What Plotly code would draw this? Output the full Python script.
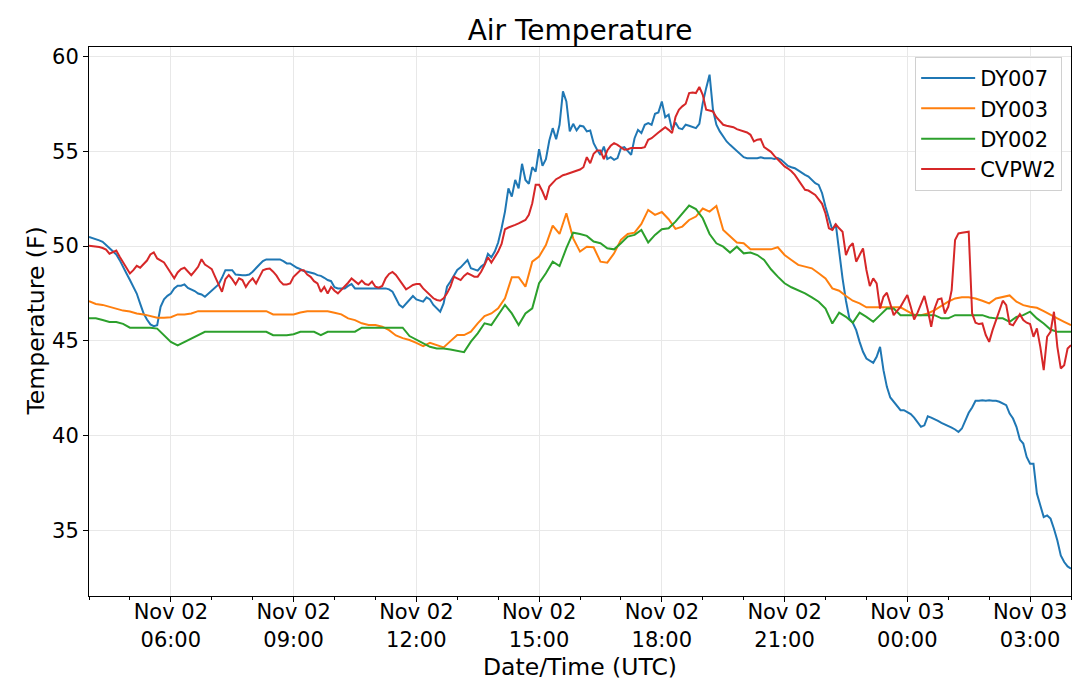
import pandas as pd
import plotly.graph_objects as go

# readings at 5 min (DY007, CVPW2) and 10 min (DY003, DY002) steps from Nov 02 04:00 UTC
start = "2019-11-02 04:00"

dy007 = [
    50.49, 50.44, 50.37, 50.3, 50.23, 50.05, 49.88, 49.74, 49.56, 49.26, 48.94, 48.56,
    48.21, 47.85, 47.5, 46.97, 46.45, 46.13, 45.87, 45.78, 45.83, 46.8, 47.2, 47.38,
    47.5, 47.77, 47.91, 47.91, 47.98, 47.8, 47.73, 47.63, 47.5, 47.45, 47.33, 47.5,
    47.68, 47.8, 47.98, 48.33, 48.73, 48.73, 48.73, 48.5, 48.47, 48.47, 48.47, 48.5,
    48.65, 48.86, 49.03, 49.21, 49.3, 49.3, 49.3, 49.3, 49.3, 49.21, 49.09, 49.09,
    48.96, 48.86, 48.79, 48.68, 48.65, 48.61, 48.56, 48.47, 48.43, 48.33, 48.21, 48.15,
    47.83, 47.77, 47.77, 47.77, 47.9, 48.0, 47.77, 47.77, 47.77, 47.77, 47.77, 47.77,
    47.77, 47.77, 47.77, 47.77, 47.72, 47.6, 47.25, 46.9, 46.77, 46.98, 47.16, 47.37,
    47.19, 47.12, 47.07, 47.3, 47.19, 46.9, 46.72, 46.54, 46.98, 47.86, 48.13, 48.43,
    48.74, 48.88, 49.06, 49.27, 48.83, 48.78, 48.71, 48.92, 49.06, 49.59, 49.41, 49.71,
    50.19, 50.94, 51.82, 53.05, 52.61, 53.49, 53.05, 54.34, 53.49, 53.28, 54.16, 53.93,
    55.11, 54.23, 54.59, 55.57, 56.22, 55.64, 56.4, 58.16, 57.63, 56.05, 56.45, 56.1,
    56.35, 56.31, 56.05, 56.1, 55.43, 55.08, 54.81, 55.25, 54.59, 54.69, 54.55, 54.64,
    55.17, 55.22, 54.99, 54.81, 55.69, 56.13, 55.96, 56.4, 56.49, 56.4, 56.98, 57.05,
    57.63, 56.8, 56.93, 56.13, 56.52, 56.22, 56.17, 56.4, 56.35, 56.27, 56.22, 56.45,
    57.54, 58.33, 59.04, 57.19, 56.4, 56.05, 55.75, 55.52, 55.34, 55.17, 54.99, 54.81,
    54.69, 54.64, 54.64, 54.64, 54.64, 54.69, 54.64, 54.64, 54.64, 54.59, 54.64, 54.55,
    54.37, 54.23, 54.16, 54.11, 53.99, 53.85, 53.76, 53.67, 53.5, 53.32, 53.23, 52.79,
    52.07, 51.52, 50.85, 51.17, 49.71, 48.3, 47.12, 46.19, 45.96, 45.57, 44.95, 44.43,
    44.07, 43.95, 43.85, 44.16, 44.69, 43.46, 42.58, 42.02, 41.79, 41.56, 41.35, 41.35,
    41.26, 41.14, 40.96, 40.68, 40.47, 40.55, 41.03, 40.96, 40.85, 40.78, 40.68, 40.61,
    40.5, 40.43, 40.33, 40.2, 40.38, 40.85, 41.21, 41.49, 41.84, 41.84, 41.87, 41.84,
    41.87, 41.84, 41.84, 41.79, 41.7, 41.61, 41.17, 40.91, 40.47, 39.8, 39.59, 38.88,
    38.53, 38.53, 36.95, 36.33, 35.71, 35.8, 35.63, 35.1, 34.48, 33.69, 33.34, 33.11,
    32.99,
]

cvpw2 = [
    50.02, 50.0, 49.98, 49.95, 49.9, 49.82, 49.6, 49.67, 49.77, 49.44, 49.14, 48.86,
    48.56, 48.73, 48.96, 48.86, 49.03, 49.24, 49.56, 49.67, 49.35, 49.24, 49.14, 48.86,
    48.61, 48.3, 48.61, 48.79, 48.86, 48.65, 48.47, 48.68, 48.91, 49.31, 49.03, 48.91,
    48.79, 48.38, 47.94, 47.59, 48.26, 48.47, 48.26, 47.98, 48.3, 48.21, 47.85, 48.12,
    48.3, 48.03, 48.38, 48.73, 48.79, 48.82, 48.65, 48.44, 48.15, 47.98, 47.98, 48.03,
    48.38, 48.56, 48.73, 48.73, 48.5, 48.38, 48.15, 48.03, 47.59, 47.85, 47.5, 47.85,
    47.65, 47.51, 47.69, 47.86, 48.07, 48.3, 48.16, 48.0, 48.18, 48.0, 47.95, 48.13,
    47.86, 47.81, 47.9, 48.3, 48.53, 48.64, 48.48, 48.21, 47.95, 47.72, 47.83, 47.95,
    48.0, 48.0, 47.77, 47.6, 47.42, 47.25, 47.16, 47.12, 47.25, 47.51, 47.86, 48.39,
    48.3, 48.21, 48.43, 48.57, 48.48, 48.39, 48.39, 48.65, 49.0, 49.41, 49.13, 49.41,
    49.71, 50.11, 50.89, 50.98, 51.03, 51.12, 51.2, 51.29, 51.38, 51.65, 52.26, 53.23,
    53.23, 52.88, 52.44, 53.14, 53.35, 53.53, 53.63, 53.74, 53.79, 53.85, 53.92, 54.0,
    54.04, 54.16, 54.69, 54.37, 54.87, 55.04, 55.04, 54.59, 55.04, 55.29, 55.43, 55.34,
    55.22, 55.08, 55.11, 55.17, 55.17, 55.17, 55.18, 55.22, 55.61, 55.69, 55.82, 55.99,
    56.13, 56.27, 56.13, 55.96, 56.8, 57.19, 57.37, 57.51, 58.07, 58.1, 58.07, 58.39,
    57.98, 57.19, 57.15, 57.1, 56.8, 56.57, 56.4, 56.35, 56.31, 56.27, 56.17, 56.1,
    56.05, 55.99, 55.87, 55.52, 55.61, 55.64, 55.22, 55.08, 54.97, 54.76, 54.59, 54.37,
    54.2, 54.09, 53.95, 53.76, 53.5, 53.18, 52.97, 52.93, 52.83, 52.7, 52.47, 52.23,
    51.72, 50.94, 50.85, 51.15, 50.94, 50.76, 49.53, 49.97, 50.15, 49.18, 49.53, 49.88,
    48.74, 47.89, 48.3, 48.03, 46.71, 47.33, 47.54, 46.98, 46.36, 46.59, 46.8, 47.12,
    47.42, 46.8, 46.13, 46.49, 46.89, 47.37, 46.63, 45.75, 46.71, 47.19, 47.24, 46.45,
    46.8, 47.68, 50.32, 50.67, 50.71, 50.73, 50.76, 46.45, 45.96, 45.89, 45.92, 45.31,
    44.95, 45.57, 46.1, 46.71, 47.12, 46.89, 45.89, 45.83, 46.1, 46.41, 46.1, 45.96,
    45.89, 45.22, 45.66, 44.69, 43.46, 45.22, 45.48, 46.54, 44.69, 43.55, 43.72, 44.6,
    44.78,
]

dy003 = [
    47.1, 46.95, 46.9, 46.8, 46.7, 46.6, 46.55, 46.45, 46.4, 46.3, 46.22, 46.22,
    46.25, 46.4, 46.4, 46.45, 46.57, 46.57, 46.57, 46.57, 46.57, 46.57, 46.57, 46.57,
    46.57, 46.57, 46.57, 46.4, 46.4, 46.4, 46.4, 46.5, 46.57, 46.57, 46.57, 46.57,
    46.49, 46.4, 46.19, 46.1, 45.93, 45.84, 45.84, 45.75, 45.57, 45.29, 45.15, 45.05,
    44.9, 44.73, 44.9, 44.78, 44.66, 44.99, 45.31, 45.31, 45.49, 45.93, 46.31, 46.45,
    46.72, 47.25, 48.36, 48.36, 47.86, 49.18, 49.45, 50.06, 51.08, 50.64, 51.73, 50.41,
    49.71, 49.97, 49.94, 49.18, 49.13, 49.62, 50.33, 50.64, 50.71, 51.17, 51.91, 51.65,
    51.8, 51.42, 50.91, 51.03, 51.38, 51.56, 51.98, 51.82, 52.12, 50.85, 50.5, 50.19,
    50.15, 49.83, 49.83, 49.83, 49.83, 49.94, 49.53, 49.27, 49.01, 48.92, 48.83, 48.57,
    48.3, 47.77, 47.65, 47.37, 47.12, 46.98, 46.77, 46.77, 46.77, 46.77, 46.77, 46.77,
    46.57, 46.38, 46.36, 46.45, 46.63, 46.87, 47.07, 47.24, 47.3, 47.3, 47.24, 47.12,
    46.98, 47.24, 47.3, 47.4, 47.07, 46.89, 46.8, 46.75, 46.57, 46.4, 46.19, 46.01,
    45.83,
]

dy002 = [
    46.2, 46.2, 46.1, 46.0, 46.0, 45.9, 45.7, 45.7, 45.7, 45.7, 45.65, 45.3,
    44.95, 44.77, 44.95, 45.1, 45.3, 45.48, 45.48, 45.48, 45.48, 45.48, 45.48, 45.48,
    45.48, 45.48, 45.48, 45.3, 45.3, 45.3, 45.35, 45.48, 45.48, 45.48, 45.3, 45.48,
    45.49, 45.49, 45.49, 45.49, 45.7, 45.7, 45.7, 45.7, 45.7, 45.7, 45.7, 45.26,
    45.08, 44.87, 44.69, 44.6, 44.6, 44.55, 44.48, 44.41, 44.96, 45.4, 45.93, 45.84,
    46.37, 46.9, 46.45, 45.84, 46.45, 46.72, 48.04, 48.57, 49.18, 48.95, 49.89, 50.71,
    50.64, 50.54, 50.24, 50.15, 49.89, 49.83, 50.15, 50.5, 50.59, 50.85, 50.19, 50.59,
    50.89, 50.94, 51.29, 51.73, 52.14, 51.95, 51.47, 50.64, 50.15, 49.97, 49.66, 49.97,
    49.62, 49.66, 49.53, 49.27, 48.78, 48.39, 48.04, 47.83, 47.69, 47.51, 47.3, 47.07,
    46.71, 45.92, 46.49, 46.27, 45.96, 46.49, 46.27, 46.01, 46.36, 46.71, 46.71, 46.36,
    46.36, 46.36, 46.36, 46.36, 46.36, 46.19, 46.19, 46.36, 46.36, 46.36, 46.36, 46.36,
    46.24, 46.19, 46.19, 46.01, 46.27, 46.36, 46.54, 46.19, 45.92, 45.6, 45.48, 45.48,
    45.48,
]

tick_times = ["2019-11-02 06:00", "2019-11-02 09:00", "2019-11-02 12:00", "2019-11-02 15:00",
              "2019-11-02 18:00", "2019-11-02 21:00", "2019-11-03 00:00", "2019-11-03 03:00"]
tick_labels = ["Nov 02<br>06:00", "Nov 02<br>09:00", "Nov 02<br>12:00", "Nov 02<br>15:00",
               "Nov 02<br>18:00", "Nov 02<br>21:00", "Nov 03<br>00:00", "Nov 03<br>03:00"]

t5 = pd.date_range(start, periods=len(dy007), freq="5min")
t10 = pd.date_range(start, periods=len(dy003), freq="10min")

series = [
    ("DY007", t5, dy007, "#1f77b4"),
    ("DY003", t10, dy003, "#ff7f0e"),
    ("DY002", t10, dy002, "#2ca02c"),
    ("CVPW2", t5, cvpw2, "#d62728"),
]

fig = go.Figure()
for name, t, v, c in series:
    fig.add_trace(go.Scatter(x=t, y=v, mode="lines", name=name, line=dict(color=c, width=2)))

# page body keeps an 8px margin, so the figure is 8px smaller each way
font = "DejaVu Sans, Verdana, sans-serif"
fig.update_layout(
    width=1072, height=676,
    margin=dict(l=81, r=9, t=39, b=88),
    paper_bgcolor="white", plot_bgcolor="white",
    font=dict(family=font, size=21, color="black"),
    title=dict(text="Air Temperature", x=0.5, xref="paper", y=1 - 22 / 676, yanchor="middle",
               font=dict(size=28)),
    legend=dict(x=0.991, y=0.982, xanchor="right", yanchor="top", bgcolor="rgba(255,255,255,0.85)",
                bordercolor="#d0d0d0", borderwidth=1, font=dict(size=21), itemwidth=54),
    showlegend=True,
    annotations=[
        dict(text="Date/Time (UTC)", xref="paper", yref="paper", x=0.5, y=-71 / 549,
             xanchor="center", yanchor="middle", showarrow=False, font=dict(size=23.5)),
        dict(text="Temperature (F)", xref="paper", yref="paper", x=-54 / 982, y=0.5,
             xanchor="center", yanchor="middle", textangle=-90, showarrow=False, font=dict(size=23.5)),
    ],
)
fig.update_xaxes(
    range=["2019-11-02 04:00", "2019-11-03 04:00"],
    tickmode="array", tickvals=tick_times, ticktext=tick_labels,
    ticks="outside", ticklen=5, tickcolor="black", ticklabelstandoff=-8,
    showline=True, linecolor="black", linewidth=1, mirror=True,
    showgrid=True, gridcolor="#e8e8e8", gridwidth=1, zeroline=False, automargin=False,
    minor=dict(dtick=3600000, tick0="2019-11-02 04:00", ticks="outside", ticklen=3,
               tickcolor="black", showgrid=False),
)
fig.update_yaxes(
    range=[31.55, 60.5], dtick=5, tick0=35,
    ticks="outside", ticklen=5, tickcolor="black",
    showline=True, linecolor="black", linewidth=1, mirror=True,
    showgrid=True, gridcolor="#e8e8e8", gridwidth=1, zeroline=False, automargin=False,
)

fig.write_html("out.html")
